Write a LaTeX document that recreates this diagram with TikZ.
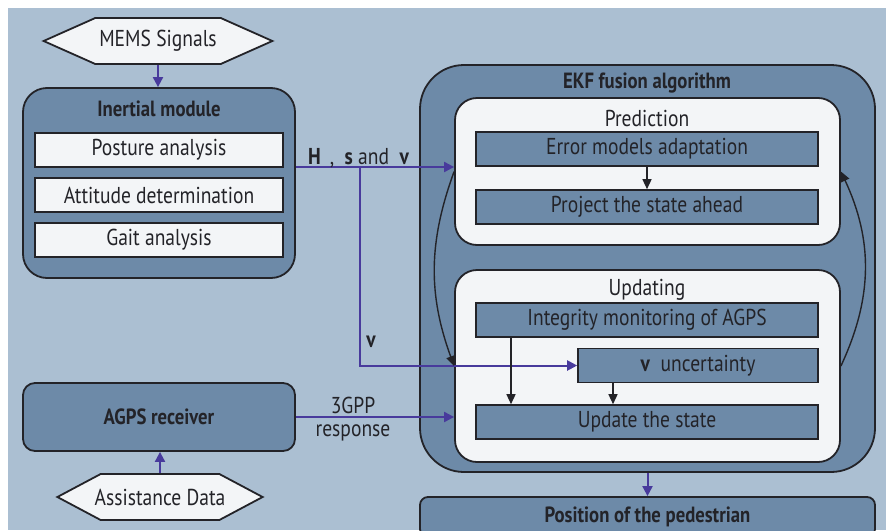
\documentclass[tikz,border=0pt]{standalone}
\usepackage{fontspec}
\setmainfont{PT Sans}[FakeStretch=0.85]
\usetikzlibrary{arrows.meta,positioning,shapes.symbols}

\definecolor{pagebg}{RGB}{171,191,210}
\definecolor{boxblue}{RGB}{109,138,168}
\definecolor{paleblock}{RGB}{243,245,247}
\definecolor{flowviolet}{RGB}{72,58,156}
\definecolor{inkgray}{RGB}{35,35,40}

\tikzset{
  panel/.style={draw=inkgray, line width=0.9pt, fill=boxblue},
  stage/.style={draw=inkgray, line width=0.9pt, fill=paleblock, rounded corners=11pt},
  lightbar/.style={draw=inkgray, line width=0.8pt, fill=paleblock, minimum width=124pt, minimum height=17pt, inner sep=0pt},
  darkbar/.style={draw=inkgray, line width=0.8pt, fill=boxblue, minimum width=171pt, minimum height=17pt, inner sep=0pt},
  source/.style={shape=signal, signal to=west and east, draw=inkgray, line width=0.9pt, fill=paleblock, inner ysep=0pt, minimum height=23pt},
  heading/.style={font=\fontsize{11}{12}\selectfont\bfseries},
  flow/.style={draw=flowviolet, line width=1pt, -{Triangle[length=5pt,width=5pt]}},
  blackflow/.style={draw=inkgray, line width=0.7pt, -{Triangle[length=5pt,width=4.5pt]}},
}

\begin{document}
\begin{tikzpicture}[x=0.5pt, y=-0.5pt, font=\fontsize{11.5}{13}\selectfont, text=inkgray]
  \useasboundingbox (0,0) rectangle (886,530);
  \fill[pagebg] (8,8) rectangle (886,530);

  % inertial side
  \node[source, signal pointer angle=48, inner xsep=2pt] (mems) at (158,41) {MEMS Signals};
  \node[panel, rounded corners=12pt, minimum width=136pt, minimum height=95pt] (inertial) at (159,183) {};
  \node[heading] (inertialtitle) at (159,109) {Inertial module};
  \node[lightbar] (posture) at (159,150) {Posture analysis};
  \node[lightbar] (attitude) at (159,195) {Attitude determination};
  \node[lightbar] (gait) at (159,240) {Gait analysis};

  % AGPS side
  \node[panel, rounded corners=6pt, minimum width=136pt, minimum height=34pt, heading] (agps) at (159,417) {AGPS receiver};
  \node[source, signal pointer angle=56, inner xsep=-3pt] (assist) at (160,497) {Assistance Data};

  % EKF
  \node[panel, rounded corners=22pt, minimum width=227.5pt, minimum height=203.5pt] (ekf) at (647.5,268.5) {};
  \node[heading] (ekftitle) at (647,83) {EKF fusion algorithm};
  \node[stage, minimum width=192.5pt, minimum height=73.5pt] (prediction) at (647.5,171.5) {};
  \node (predtitle) at (647,118) {Prediction};
  \node[darkbar] (error) at (647,149) {Error models adaptation};
  \node[darkbar] (project) at (647,207) {Project the state ahead};
  \node[stage, minimum width=192.5pt, minimum height=96pt] (updating) at (647.5,366) {};
  \node (updtitle) at (647,290) {Updating};
  \node[darkbar] (integrity) at (647,320) {Integrity monitoring of AGPS};
  \node[darkbar, minimum width=120pt] (vunc) at (698,365.5) {\textbf{v}\ \ uncertainty};
  \node[darkbar] (update) at (647,422) {Update the state};
  \node[panel, rounded corners=4pt, minimum width=227.5pt, minimum height=20pt, heading] (position) at (647.5,517) {Position of the pedestrian};

  % violet flows
  \draw[flow] (mems.south) -- (mems.south |- inertial.north);
  \draw[flow] (assist.north) -- (assist.north |- agps.south);
  \coordinate (fork) at (360,167);
  \draw[flow] (inertial.east |- fork) -- (prediction.west |- fork);
  \draw[flow] (fork) |- (vunc.west);
  \draw[flow] (agps.east) -- (agps.east -| updating.west);
  \draw[flow] (ekf.south) -- (position.north);
  \node[anchor=base west] (hsvlabel) at (301,164) {\textbf{H}\,\ ,\ \ \textbf{s}\ and\ \ \textbf{v}};
  \node[font=\fontsize{11.5}{13}\selectfont\bfseries] (vlabel) at (371,342) {v};
  \node (gpptop) at (353,405) {3GPP};
  \node (gppbottom) at (353,433) {response};

  % black flows
  \draw[blackflow] (error) -- (project);
  \draw[blackflow] ([xshift=-68pt]integrity.south) -- ([xshift=-68pt]update.north);
  \coordinate (vdrop) at ([xshift=-42.5pt]vunc.south);
  \draw[blackflow] (vdrop) -- (vdrop |- update.north);
  \draw[blackflow] (prediction.west) to[out=-110, in=110] (updating.west);
  \draw[blackflow] (updating.east) to[out=65, in=-65] (prediction.east);
\end{tikzpicture}
\end{document}
